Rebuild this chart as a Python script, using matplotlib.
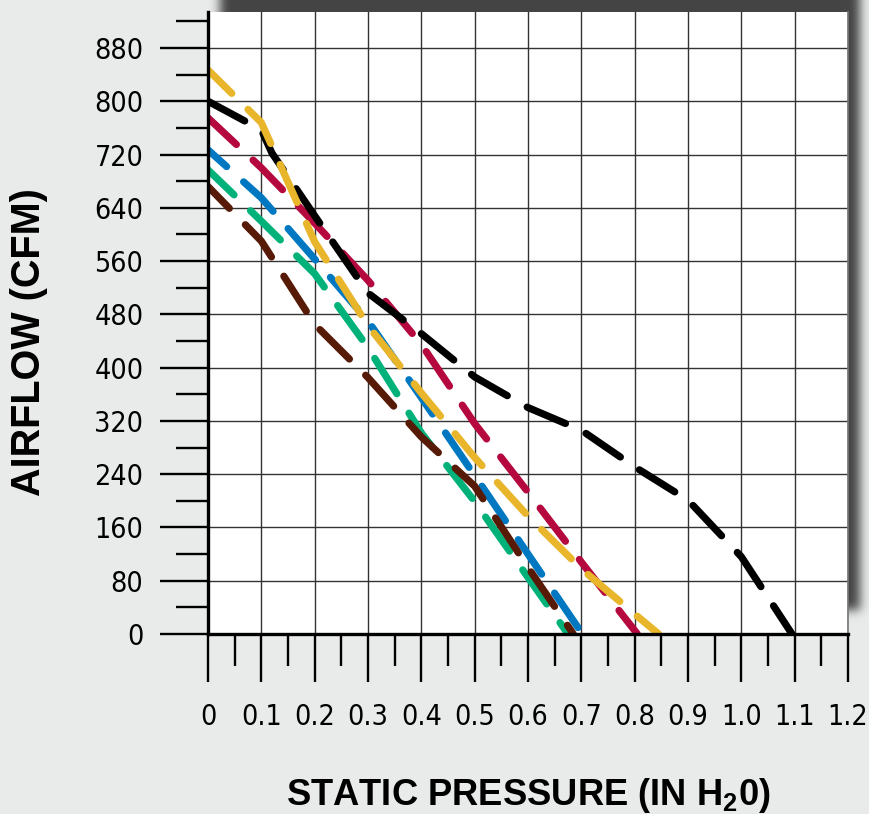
import numpy as np
import matplotlib
matplotlib.use('Agg')
from matplotlib import pyplot as plt
from matplotlib.ticker import MultipleLocator, FixedLocator
from matplotlib import font_manager

# fan curves (static pressure in H2O -> airflow CFM)
black_p = [0, 0.1, 0.12, 0.2, 0.3, 0.4, 0.5, 0.6, 0.7, 0.8, 0.9, 1.0, 1.095]
black_q = [800, 757, 722, 628, 512, 451, 386, 340, 306, 251, 201, 116, 0]

yellow_p = [0, 0.1, 0.2, 0.3, 0.4, 0.5, 0.6, 0.7, 0.8, 0.845]
yellow_q = [847, 768, 589, 463, 362, 265, 177, 98, 30, 0]

red_p = [0, 0.1, 0.2, 0.3, 0.4, 0.5, 0.6, 0.7, 0.805]
red_q = [775, 700, 617, 531, 435, 316, 213, 108, 0]

blue_p = [0, 0.1, 0.2, 0.3, 0.4, 0.5, 0.6, 0.702]
blue_q = [727, 655, 563, 470, 355, 238, 120, 0]

green_p = [0, 0.1, 0.2, 0.3, 0.4, 0.5, 0.6, 0.675]
green_q = [697, 620, 541, 430, 302, 199, 85, 0]

brown_p = [0, 0.1, 0.2, 0.3, 0.4, 0.5, 0.6, 0.685]
brown_q = [672, 590, 465, 385, 296, 222, 100, 0]

x_ticks = [0, 0.1, 0.2, 0.3, 0.4, 0.5, 0.6, 0.7, 0.8, 0.9, 1.0, 1.1, 1.2]
x_labels = ['0', '0.1', '0.2', '0.3', '0.4', '0.5', '0.6', '0.7', '0.8', '0.9', '1.0', '1.1', '1.2']
y_ticks = [0, 80, 160, 240, 320, 400, 480, 560, 640, 720, 800, 880]

plt.rcParams['lines.scale_dashes'] = False
plt.rcParams['mathtext.fontset'] = 'custom'
plt.rcParams['mathtext.rm'] = 'Liberation Sans:bold'
plt.rcParams['mathtext.bf'] = 'Liberation Sans:bold'

# look for a narrow face for the tick numbers
narrow_file = None
for f in font_manager.fontManager.ttflist:
    if f.stretch in ('condensed', 'semi-condensed', 'extra-condensed') or 'Narrow' in f.name or 'Condensed' in f.fname:
        if 'Bold' not in f.fname and 'Oblique' not in f.fname and 'Italic' not in f.fname and 'Mono' not in f.fname and 'Serif' not in f.fname:
            narrow_file = f.fname
            break

W, H = 869, 814
bgcol = '#e8ebea'
fig = plt.figure(figsize=(W / 100, H / 100), dpi=100, facecolor=bgcol)

# axes box in pixels
L, R, T, B = 208, 848, 12, 634
ax_rect = [L / W, 1 - B / H, (R - L) / W, (B - T) / H]

# drop shadow behind plot area (offset up/right, blurred)
def soft_step(n, a, b, sig):
    m = np.zeros(n)
    m[max(a, 0):min(b, n)] = 1.0
    k = np.arange(-4 * sig, 4 * sig + 1)
    g = np.exp(-0.5 * (k / sig) ** 2)
    g /= g.sum()
    return np.convolve(np.pad(m, 4 * sig, mode='edge'), g, mode='same')[4 * sig:-4 * sig]

sx = soft_step(W, L + 12, R + 12, 5)
sy = soft_step(H, T - 40, B - 24, 5)
alpha = np.outer(sy, sx)
shadow = np.zeros((H, W, 4))
shadow[..., :3] = 0.27
shadow[..., 3] = alpha
bg = fig.add_axes([0, 0, 1, 1], zorder=-1)
bg.imshow(shadow, extent=[0, W, H, 0], aspect='auto', interpolation='bilinear')
bg.set_xlim(0, W)
bg.set_ylim(H, 0)
bg.axis('off')

ax = fig.add_axes(ax_rect)
ax.set_facecolor('white')
ax.set_xlim(0, 1.2)
ax.set_ylim(0, 934)

ax.xaxis.set_major_locator(FixedLocator(x_ticks))
ax.xaxis.set_minor_locator(MultipleLocator(0.05))
ax.yaxis.set_major_locator(FixedLocator(y_ticks))
ax.yaxis.set_minor_locator(MultipleLocator(40))
ax.set_xticklabels(x_labels)
ax.grid(True, which='major', color='#333333', lw=1.0)
ax.set_axisbelow(True)

ax.spines['top'].set_visible(False)
ax.spines['right'].set_color('#777777')
ax.spines['right'].set_linewidth(1.2)
ax.spines['left'].set_linewidth(2.4)
ax.spines['bottom'].set_linewidth(2.4)

ax.tick_params(axis='both', which='major', direction='out', length=34.5, width=1.7, color='black')
ax.tick_params(axis='both', which='minor', direction='out', length=23, width=1.7, color='black')
ax.tick_params(axis='y', which='major', pad=12)
ax.tick_params(axis='x', which='major', pad=15)
for lab in ax.get_xticklabels() + ax.get_yticklabels():
    if narrow_file:
        lab.set_fontproperties(font_manager.FontProperties(fname=narrow_file, size=20.5))
    else:
        lab.set_fontfamily('Liberation Sans')
        lab.set_fontsize(19)

curves = [
    (green_p, green_q, '#00b27a', 4),
    (blue_p, blue_q, '#0078c1', 12),
    (brown_p, brown_q, '#561a06', 8),
    (red_p, red_q, '#b4083e', 2),
    (black_p, black_q, '#000000', 0),
    (yellow_p, yellow_q, '#e9b52a', 6),
]
for p, q, c, off in curves:
    ax.plot(p, q, color=c, lw=5.2, linestyle=(off, (30, 16.5)),
            dash_capstyle='round', solid_capstyle='round')

fig.text(29 / W, 1 - 342 / H, 'AIRFLOW (CFM)', rotation=90, ha='center', va='center',
         fontsize=28.5, fontweight='bold', family=['Liberation Sans', 'DejaVu Sans'])
fig.text(528 / W, 1 - 805 / H, r'STATIC PRESSURE (IN H$_{\mathbf{2}}$0)', ha='center', va='baseline',
         fontsize=26.2, fontweight='bold', family=['Liberation Sans', 'DejaVu Sans'])

fig.savefig('out.png', dpi=100, facecolor=bgcol)
